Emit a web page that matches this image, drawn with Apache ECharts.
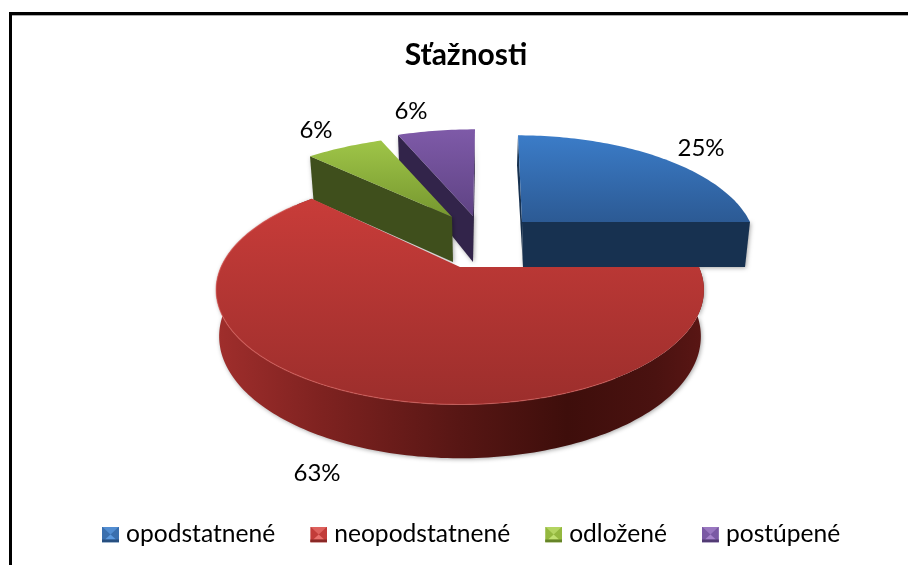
<!DOCTYPE html>
<html><head><meta charset="utf-8">
<style>html,body{margin:0;padding:0;background:#fff}#c{width:908px;height:565px}</style>
<script src="https://cdn.jsdelivr.net/npm/echarts@6/dist/echarts.min.js"></script>
</head><body><div id="c"></div>
<script>
// ---- chart values ----
const titleText = 'Sťažnosti';
const categories = ['opodstatnené', 'neopodstatnené', 'odložené', 'postúpené'];
const values = [4, 10, 1, 1];

// ---- palette ----
const palette = {
  'opodstatnené':   { top: ['#3b7cc8', '#2c5a94'], side: '#173150', cut: '#173150', icon: ['#5c9ae0', '#3a6fae', '#274f80'] },
  'neopodstatnené': { top: ['#c83c39', '#9c2e2c'], side: null, cut: '#5a1614', icon: ['#e8706c', '#c23c39', '#8a2826'] },
  'odložené':       { top: ['#9fc548', '#76972f'], side: '#3f4f1c', cut: '#3f4f1c', icon: ['#c0e070', '#94b83f', '#668428'] },
  'postúpené':      { top: ['#7e5aa8', '#5f4384'], side: '#32244a', cut: '#32244a', icon: ['#a684cc', '#7a59a4', '#523b74'] }
};

// ---- projected pie geometry, one local perspective per exploded slice ----
const persp = 0.2;
const shape = {
  'opodstatnené':   { a: [522, 222], b: [523, 267], rx: 228, rxB: 222, k: 104, kB: 118, lean: 24, labelAt: [701, 148] },
  'neopodstatnené': { a: [460, 267], b: [460, 312], rx: 239, rxB: 236, k: 110, kB: 117, lean: 0,  labelAt: [317, 473] },
  'odložené':       { a: [452, 217], b: [453, 262], rx: 236, rxB: 232, k: 98,  kB: 100, lean: -34, labelAt: [316, 130] },
  'postúpené':      { a: [473, 216], b: [473, 262], rx: 238, rxB: 234, k: 104, kB: 118, lean: -12, labelAt: [411, 111] }
};
const drawOrder = ['postúpené', 'odložené', 'opodstatnené', 'neopodstatnené'];

const total = values.reduce((a, b) => a + b, 0);
function startOf(i) { let s = 0; for (let j = 0; j < i; j++) s += values[j]; return s / total * 2 * Math.PI; }

function proj(g, th, bottom) {
  const X = Math.sin(th), Y = -Math.cos(th), d = 1 - persp * Y;
  const A = bottom ? g.b : g.a, R = bottom ? g.rxB : g.rx, K = bottom ? g.kB : g.k;
  return [A[0] + (R * X + g.lean) / d - g.lean, A[1] + K * Y / d];
}
function arc(g, t0, t1, bottom) {
  const n = Math.max(4, Math.ceil(Math.abs(t1 - t0) / 0.02)), pts = [];
  for (let i = 0; i <= n; i++) pts.push(proj(g, t0 + (t1 - t0) * i / n, bottom));
  return pts;
}
function vGrad(c) { return new echarts.graphic.LinearGradient(0, 0, 0, 1, [{ offset: 0, color: c[0] }, { offset: 1, color: c[1] }]); }

function renderSlice(name) {
  return function (params, api) {
    const idx = categories.indexOf(name), v = api.value(0);
    const g = shape[name], pal = palette[name];
    const t0 = startOf(idx), t1 = t0 + v / total * 2 * Math.PI;
    const children = [];
    const topArc = arc(g, t0, t1, false);
    const shadow = { shadowBlur: 4, shadowColor: 'rgba(0,0,0,0.35)', shadowOffsetX: 1, shadowOffsetY: 1 };
    if (name === 'neopodstatnené') {
      const band = arc(g, t0, t1, false).concat(arc(g, t1, t0, true));
      children.push({ type: 'polygon', shape: { points: band }, style: Object.assign({
        fill: new echarts.graphic.LinearGradient(0, 0, 1, 0, [
          { offset: 0, color: '#a02e2c' }, { offset: 0.22, color: '#7e2220' },
          { offset: 0.5, color: '#571614' }, { offset: 0.72, color: '#3e0e0b' },
          { offset: 0.9, color: '#4a1210' }, { offset: 1, color: '#5a1614' }])
      }, shadow) });
    } else {
      const cutPts = name === 'opodstatnené'
        ? [proj(g, t1, false), g.a, g.b, proj(g, t1, true)]
        : [proj(g, t0, false), g.a, g.b, proj(g, t0, true)];
      if (name === 'opodstatnené') {
        const far = proj(g, t0, false);
        children.push({ type: 'polygon', shape: { points: [far, g.a, g.b, [far[0] - 1, far[1] + 30]] }, style: { fill: pal.side } });
      }
      if (name === 'postúpené') {
        children.push({ type: 'polygon', shape: { points: [proj(g, t1, false), g.a, g.b, proj(g, t1, true)] }, style: Object.assign({ fill: pal.side }, shadow) });
      }
      children.push({ type: 'polygon', shape: { points: cutPts }, style: Object.assign({ fill: pal.cut }, shadow) });
    }
    children.push({ type: 'polygon', shape: { points: [g.a].concat(topArc) }, style: { fill: vGrad(pal.top) } });
    if (name === 'neopodstatnené') {
      children.push({ type: 'polyline', shape: { points: arc(g, t0 + 1.0, t1 - 0.1, false) }, style: { fill: 'none', stroke: 'rgba(224,104,100,0.55)', lineWidth: 1.2 } });
    }
    children.push({ type: 'text', style: { text: Math.round(v / total * 100) + '%', x: g.labelAt[0], y: g.labelAt[1], align: 'center', verticalAlign: 'middle', font: '24px Lato', fill: '#000' } });
    return { type: 'group', children };
  };
}

function bevelIcon(c) {
  const svg = `<svg xmlns="http://www.w3.org/2000/svg" width="17" height="16"><rect width="17" height="16" fill="${c[1]}"/>` +
    `<polygon points="0,0 17,0 8.5,8" fill="${c[0]}" opacity="0.7"/>` +
    `<polygon points="3,13 14,13 8.5,8" fill="${c[0]}"/>` +
    `<polygon points="0,13 17,13 17,16 0,16" fill="${c[2]}"/></svg>`;
  return 'image://data:image/svg+xml;charset=utf-8,' + encodeURIComponent(svg);
}

const chart = echarts.init(document.getElementById('c'), null, { renderer: 'canvas' });
chart.setOption({
  animation: false,
  backgroundColor: '#fff',
  title: { text: titleText, left: 461, top: 35, textAlign: 'center',
    textStyle: { fontFamily: 'Lato', fontWeight: 'bold', fontSize: 30, color: '#000' } },
  legend: {
    left: 97, top: 517, itemWidth: 17, itemHeight: 16, itemGap: 35, selectedMode: false,
    textStyle: { fontFamily: 'Lato', fontSize: 24.6, color: '#000', padding: [0, 0, 0, 2] },
    data: categories.map(n => ({ name: n, icon: bevelIcon(palette[n].icon) }))
  },
  graphic: [
    { type: 'polyline', z: 100, silent: true, shape: { points: [[10.5, 565], [10.5, 13.5], [908, 13.5]] }, style: { fill: 'none', stroke: '#000', lineWidth: 3 } },
    { type: 'line', z: 99, silent: true, shape: { x1: 12, y1: 15.5, x2: 908, y2: 15.5 }, style: { stroke: '#aaa', lineWidth: 1 } }
  ],
  series: drawOrder.map(n => ({
    type: 'custom', name: n, coordinateSystem: 'none', silent: true,
    itemStyle: { color: palette[n].top[0] },
    data: [[values[categories.indexOf(n)]]],
    renderItem: renderSlice(n)
  }))
});
</script></body></html>
